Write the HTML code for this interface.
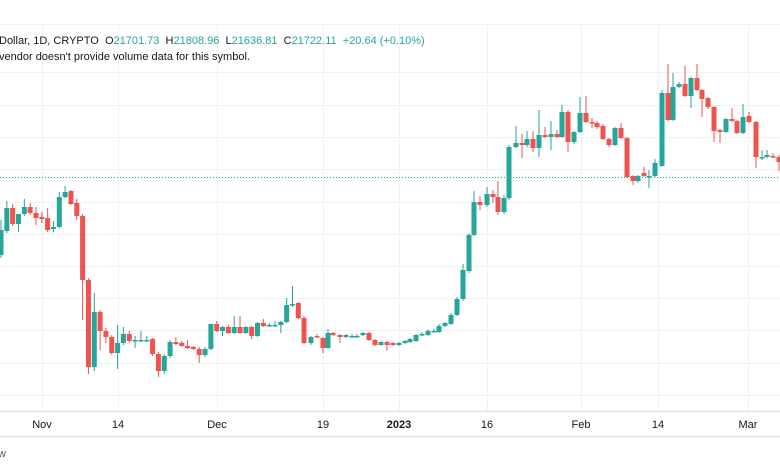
<!DOCTYPE html>
<html><head><meta charset="utf-8"><style>
html,body{margin:0;padding:0;background:#fff;}
svg{display:block;font-family:"Liberation Sans",sans-serif;}
</style></head><body>
<svg id="s" width="780" height="470" viewBox="0 0 780 470" xmlns="http://www.w3.org/2000/svg">
<rect width="780" height="470" fill="#fff"/>
<g id="grid" stroke="#eef1f6" stroke-width="1"></g>
<line x1="0" y1="177.5" x2="780" y2="177.5" stroke="#26a69a" stroke-width="1" stroke-dasharray="1,2"/>
<g id="c"></g>
<line x1="0" y1="411.5" x2="780" y2="411.5" stroke="#e6e9ef" stroke-width="2"/>
<line x1="0" y1="436.5" x2="780" y2="436.5" stroke="#e6e9ef" stroke-width="2"/>
<g font-size="11" fill="#131722" text-anchor="middle">
<text x="42" y="428">Nov</text><text x="118" y="428">14</text><text x="217" y="428">Dec</text>
<text x="323" y="428">19</text><text x="399" y="428" font-weight="bold">2023</text><text x="487" y="428">16</text>
<text x="581" y="428">Feb</text><text x="658" y="428">14</text><text x="748" y="428">Mar</text>
</g>
<text x="-2" y="457" font-size="11" fill="#555">w</text>
<text x="-1" y="44" font-size="11" fill="#131722" xml:space="preserve">Dollar, 1D, CRYPTO  O<tspan fill="#26a69a">21701.73</tspan>  H<tspan fill="#26a69a">21808.96</tspan>  L<tspan fill="#26a69a">21636.81</tspan>  C<tspan fill="#26a69a">21722.11</tspan>  <tspan fill="#26a69a">+20.64 (+0.10%)</tspan></text>
<text x="-1" y="60" font-size="11" fill="#131722">vendor doesn't provide volume data for this symbol.</text>
</svg>
<script>
var NS="http://www.w3.org/2000/svg";
var g=document.getElementById("grid");
[72,105,137,169,202,234,266,298,330,363,395].forEach(function(y){var l=document.createElementNS(NS,"line");l.setAttribute("x1",0);l.setAttribute("x2",780);l.setAttribute("y1",y+.5);l.setAttribute("y2",y+.5);g.appendChild(l);});
g.appendChild((function(){var l=document.createElementNS(NS,"line");l.setAttribute("x1",0);l.setAttribute("x2",780);l.setAttribute("y1",24.5);l.setAttribute("y2",24.5);return l;})());
[42,118,217,323,399,487,581,658,748].forEach(function(x){var l=document.createElementNS(NS,"line");l.setAttribute("x1",x+.5);l.setAttribute("x2",x+.5);l.setAttribute("y1",24);l.setAttribute("y2",411);g.appendChild(l);});
var A=[[255,230,220,258],[231,208,201,233],[208,224,204,226],[224,214,214,232],[214,207,199,216],[207,213,203,215],[213,218,207,225],[217,219,212,223],[218,230,208,232],[229,227,221,232],[227,197,192,228],[197,192,186,198],[191,204,190,205],[203,216,199,220],[216,280,214,320],[280,367,278,374],[367,312,293,371],[312,331,310,350],[331,337,328,343],[337,353,335,355],[353,343,325,369],[343,334,327,345],[334,341,331,343],[340,340,336,348],[340,340,331,342],[340,340,336,342],[339,354,338,356],[354,371,352,377],[371,356,354,374],[356,342,340,358],[342,344,337,345],[343,346,341,347],[346,348,340,349],[347,349,346,350],[349,355,347,363],[355,349,347,357],[349,324,347,350],[324,331,321,332],[331,327,326,336],[327,333,325,334],[333,327,316,334],[327,333,316,334],[333,327,326,334],[327,336,326,339],[336,323,322,337],[323,326,319,327],[325,325,323,327],[325,325,321,327],[325,322,321,333],[322,305,298,323],[304,304,286,307],[303,318,302,319]];
var B=[[304,318,343,316,344],[311,343,337,336,345],[317,336,337,334,338],[323,338,348,337,353],[328,348,333,329,349],[333,333,335,332,336],[340,335,337,334,343],[346,337,335,334,338],[352,336,336,334,338],[357,336,336,334,337],[363,335,333,332,336],[369,333,340,332,341],[375,340,345,339,346],[381,345,342,341,346],[387,342,345,341,351],[393,343,345,342,346],[399,345,343,342,346],[405,343,341,340,344],[410,342,339,338,343],[416,341,335,334,342],[422,334,334,332,336],[428,335,331,329,336],[434,331,331,329,332],[439,332,326,324,333],[445,326,323,322,327],[451,324,315,313,325],[457,315,299,297,316],[463,299,270,264,301],[469,271,235,233,273],[474,235,202,191,236],[480,202,205,196,210],[487,205,194,187,207],[493,194,197,190,203],[498,197,212,181,215],[504,212,198,195,214],
[509,198,147,145,200],[516,147,143,126,148],[522,143,145,134,158],[527,145,139,131,147],[533,139,148,131,152],[539,148,135,110,157],[545,135,137,127,138],[551,137,134,121,150],[557,134,137,130,138],[562,137,112,105,138],[568,112,142,110,152],[574,142,132,131,144],[580,132,113,97,133],[586,113,122,96,123],[592,122,123,118,128],[597,123,127,121,129],[603,126,139,124,140],[609,139,145,138,147],[615,145,128,127,146],[621,128,138,123,139],[627,138,177,137,178],[633,176,181,175,185],[638,181,176,175,183],[644,173,176,167,177],[649,176,176,170,188],[655,176,163,159,177],[662,166,93,90,167],[668,93,120,64,121],[673,120,87,73,121],[679,87,84,82,88],[685,84,96,66,97],[691,96,78,77,108],[697,78,90,64,91],[702,90,99,89,117],[708,98,107,97,109],[714,107,131,106,142],[720,130,132,129,143],[726,132,119,118,133],[732,119,121,108,122],[737,121,133,120,134],[743,133,117,104,134],[749,116,122,112,123],[756,122,157,121,168],[762,157,157,150,160],[767,157,155,150,158],[773,156,157,153,158],[779,157,162,155,171]];
var C=[];
A.forEach(function(d,i){C.push([1+5.83*i].concat(d));});
C=C.concat(B);
var cg=document.getElementById("c");
C.forEach(function(d){
 var x=d[0],o=d[1],c=d[2],h=d[3],l=d[4];
 var col=c<=o?"#26a69a":"#ef5350";
 var w=document.createElementNS(NS,"rect");
 w.setAttribute("x",x-0.5);w.setAttribute("width",1);w.setAttribute("y",Math.min(h,o,c));w.setAttribute("height",Math.max(l,o,c)-Math.min(h,o,c));w.setAttribute("fill",col);cg.appendChild(w);
 var b=document.createElementNS(NS,"rect");
 var t=Math.min(o,c),hh=Math.max(Math.abs(o-c),1.5);
 b.setAttribute("x",x-2.5);b.setAttribute("width",5);b.setAttribute("y",t);b.setAttribute("height",hh);b.setAttribute("fill",col);cg.appendChild(b);
});
</script>
</body></html>
